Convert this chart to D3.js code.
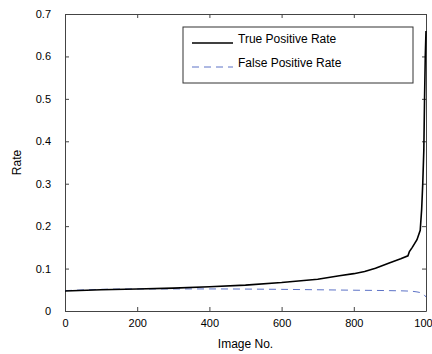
<!DOCTYPE html>
<html>
<head>
<meta charset="utf-8">
<script src="https://cdn.jsdelivr.net/npm/d3@7"></script>
<style>
	body { margin: 0; background: #fff; }
	text { font-family: "Liberation Sans", Arial, sans-serif; }
	.axis path, .axis line { stroke: #444; }
</style>
</head>
<body>
<div id="chart-area"></div>
<script>
// chart values
let tprIndex = [0, 100, 200, 300, 400, 500, 600, 700, 760, 800, 830, 860, 900, 930, 950, 954, 962, 975, 984, 988, 991, 994, 996, 998, 1000];
let tprValue = [0.047, 0.050, 0.052, 0.054, 0.057, 0.061, 0.067, 0.075, 0.083, 0.088, 0.093, 0.101, 0.114, 0.123, 0.130, 0.140, 0.150, 0.168, 0.190, 0.240, 0.300, 0.380, 0.500, 0.600, 0.660];

let fprIndex = [0, 100, 200, 400, 600, 800, 900, 950, 975, 988, 995, 1000];
let fprValue = [0.048, 0.051, 0.052, 0.052, 0.051, 0.049, 0.048, 0.047, 0.045, 0.042, 0.038, 0.033];

let xTicks = [0, 200, 400, 600, 800, 1000];
let yTicks = [0, 0.1, 0.2, 0.3, 0.4, 0.5, 0.6, 0.7];
let legendLabels = ["True Positive Rate", "False Positive Rate"];

let width = 432, height = 354;
let margin = {top: 14, right: 6, bottom: 43, left: 65};
let w = width - margin.left - margin.right,
	h = height - margin.top - margin.bottom;

let svg = d3.select("#chart-area").append("svg")
	.attr("width", width)
	.attr("height", height)
	.append("g")
	.attr("transform", "translate(" + margin.left + "," + margin.top + ")");

let x = d3.scaleLinear().domain([0, 1000]).range([0, w]);
let y = d3.scaleLinear().domain([0, 0.7]).range([h, 0]);

// axes, ticks point inward
svg.append("g")
	.attr("class", "axis")
	.attr("transform", "translate(0," + h + ")")
	.call(d3.axisBottom(x).tickValues(xTicks).tickFormat(d3.format("d")).tickSize(-4).tickPadding(8).tickSizeOuter(0))
	.selectAll("text").attr("font-size", 11).attr("fill", "#000");

svg.append("g")
	.attr("class", "axis")
	.call(d3.axisLeft(y).tickValues(yTicks).tickFormat(d3.format(".1~f")).tickSize(-4).tickPadding(14).tickSizeOuter(0))
	.selectAll("text").attr("font-size", 11).attr("fill", "#000");

svg.append("g")
	.attr("class", "axis")
	.call(d3.axisTop(x).tickValues(xTicks).tickFormat("").tickSize(-4).tickSizeOuter(0));

svg.append("g")
	.attr("class", "axis")
	.attr("transform", "translate(" + w + ",0)")
	.call(d3.axisRight(y).tickValues(yTicks).tickFormat("").tickSize(-4).tickSizeOuter(0));

svg.selectAll(".axis .domain").attr("stroke", "#444");

// axis titles
svg.append("text")
	.attr("x", w / 2)
	.attr("y", h + 37)
	.attr("text-anchor", "middle")
	.attr("font-size", 12)
	.text("Image No.");

svg.append("text")
	.attr("transform", "translate(" + (-44) + "," + (h / 2) + ") rotate(-90)")
	.attr("text-anchor", "middle")
	.attr("font-size", 12)
	.text("Rate");

// lines
let tpr = tprIndex.map((d, i) => ({i: d, v: tprValue[i]}));
let fpr = fprIndex.map((d, i) => ({i: d, v: fprValue[i]}));

let line = d3.line()
	.x(d => x(d.i))
	.y(d => y(d.v));

svg.append("path")
	.datum(fpr)
	.attr("d", line.curve(d3.curveMonotoneX))
	.attr("fill", "none")
	.attr("stroke", "#4a62c0")
	.attr("stroke-width", 0.9)
	.attr("stroke-dasharray", "7,5");

svg.append("path")
	.datum(tpr)
	.attr("d", line.curve(d3.curveLinear))
	.attr("fill", "none")
	.attr("stroke", "#000")
	.attr("stroke-width", 1.6);

// legend
let legend = svg.append("g")
	.attr("transform", "translate(" + (183 - margin.left) + "," + (27 - margin.top) + ")");

legend.append("rect")
	.attr("width", 230)
	.attr("height", 56)
	.attr("fill", "#fff")
	.attr("stroke", "#333")
	.attr("stroke-width", 1);

legendLabels.forEach((label, i) => {
	let ly = 16 + i * 24;
	legend.append("line")
		.attr("x1", 9).attr("x2", 50)
		.attr("y1", ly).attr("y2", ly)
		.attr("stroke", i == 0 ? "#000" : "#4a62c0")
		.attr("stroke-width", i == 0 ? 1.6 : 0.9)
		.attr("stroke-dasharray", i == 0 ? null : "7,5");
	legend.append("text")
		.attr("x", 55)
		.attr("y", ly)
		.attr("font-size", 12)
		.text(label);
});
</script>
</body>
</html>
